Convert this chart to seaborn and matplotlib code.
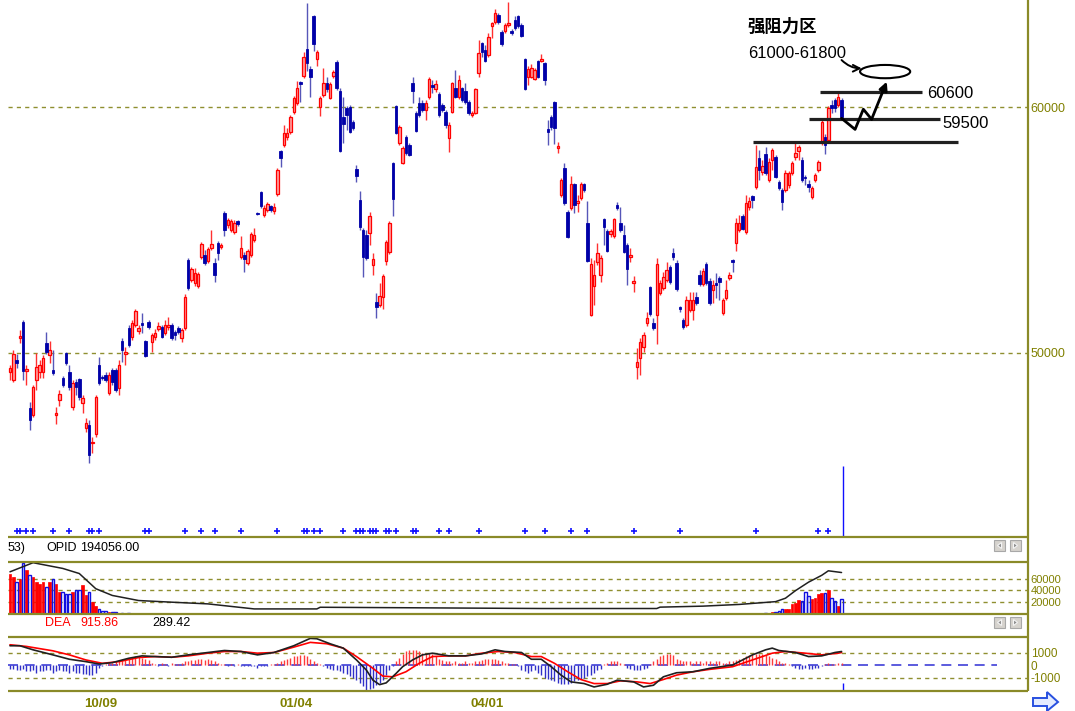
import numpy as np
import pandas as pd
import matplotlib
matplotlib.use("Agg")
import matplotlib.pyplot as plt
from matplotlib.patches import Ellipse, Rectangle, Polygon
import seaborn as sns

# ---------------- data (candles) ----------------
opens = [49230,48900,49720,50610,51260,49270,47770,47480,48900,49230,
 49230,50410,49920,49310,47480,48090,48980,50000,49230,47810,
 48820,48940,47970,46950,47070,46340,46710,49510,49030,49110,
 48380,49310,49310,48580,50490,49960,51020,50650,51140,50900,
 51220,50490,51260,50450,50650,50980,51060,50810,51060,51140,
 50850,51020,50610,51020,53780,52970,52850,52720,53900,53980,
 53740,54270,53660,54470,54310,55690,55200,55000,54920,55370,
 53900,53980,53660,53980,54590,55690,56550,55610,55810,55980,
 55770,56460,58210,58460,58780,58980,59800,60160,61020,61260,
 62360,61550,63700,61950,60000,60490,60980,60370,61260,61830,
 60650,59590,59960,60000,59390,57480,56220,55000,54800,54880,
 53580,52070,51950,52280,53740,54110,57720,60040,58540,57720,
 58780,58460,60980,59760,60160,60160,59880,60410,60890,60730,
 60530,60080,59800,58740,59800,60770,60410,60770,60650,60200,
 59680,59760,61380,62600,62320,62110,63290,63460,63740,63050,
 63090,63330,63090,63540,63700,63330,61950,61220,61220,61140,
 61870,61870,61790,59110,59590,60200,58330,56420,57520,55730,
 55900,56870,56100,56300,56870,55290,51550,52720,53700,53170,
 55450,54960,54840,54760,56020,55290,54800,54390,53900,52850,
 49430,49800,50240,51220,52680,51220,51550,52440,52640,52970,
 53500,54070,53660,51870,51340,51140,51750,51750,52280,53170,
 52810,53620,52930,52560,52850,53050,51630,52240,53050,53780,
 54470,55000,55570,54920,55940,56380,56750,57930,57360,58090,
 57030,57850,57970,56950,56630,56630,56830,57320,57970,58210,
 57850,57160,56870,56340,57030,57440,58580,58780,58660,60080,
 60290,60080,60290]
highs = [49510,50120,49960,50940,51340,49510,48010,48700,50000,49720,
 49920,50850,50490,50120,47810,48500,49070,50040,49510,48900,
 48940,48980,48290,47360,47280,46590,48290,49840,49110,49230,
 49230,49390,49390,49720,50610,50240,51140,51340,51790,51140,
 51630,50530,51340,50810,50980,51260,51140,51340,51460,51220,
 50940,51100,51020,52400,53860,53500,53460,53290,54510,54190,
 54310,55000,53860,54550,54470,55770,55490,55450,55410,55410,
 54760,54110,54230,54920,55080,55730,56590,56020,56140,56020,
 56100,57520,58250,59270,59150,59680,60450,61060,61060,62240,
 64230,61670,63740,62320,60450,61590,61220,61020,61500,61910,
 60770,60410,60040,60080,59470,57640,56590,55080,55000,55730,
 54070,52440,52850,53210,54590,55370,57770,60080,59270,58420,
 58860,58540,61220,59840,60410,60290,60290,61220,61100,61100,
 60610,60160,59880,59390,61020,61510,61300,60810,60980,60290,
 59840,60770,62720,62640,62520,63010,63460,63980,63820,63130,
 63420,64270,63170,63700,63740,63420,61990,61670,61750,61590,
 61910,62160,61830,59470,59680,60240,58580,57110,57720,55810,
 57200,56910,56420,56950,56910,56180,53860,53780,54470,53980,
 55490,55040,55040,55490,56140,55940,55200,54470,54270,53130,
 50200,50610,50850,51670,52720,51420,53860,52970,53290,53700,
 53580,54270,53780,51910,51420,52320,52480,52480,52480,53380,
 53460,53700,53050,52970,53250,53130,52240,52970,53290,53820,
 55490,55610,55650,56420,56340,56420,58460,58250,57850,58380,
 57930,58330,58050,57030,56710,57440,57400,57810,58540,58460,
 57970,57240,57030,56790,57320,57850,59470,58900,60040,60290,
 60370,60610,60370]
lows = [48900,48820,49390,50410,48900,48700,46870,47400,48500,48980,
 48980,49960,49590,49110,47110,47850,48620,49510,48500,47680,
 48290,48090,47560,46790,45530,45940,46590,48700,48900,48820,
 48290,48700,48420,48290,49630,49510,50240,50530,51060,50770,
 50810,49840,50980,50040,50530,50900,50610,50730,50940,50530,
 50530,50770,50450,50940,52560,52890,52720,52640,53820,53580,
 53660,54190,52890,53780,54230,54760,55080,54920,54840,55160,
 53820,53290,53580,53900,54510,55610,55900,55530,55730,55730,
 55650,56380,57560,58380,58660,58900,59720,60080,60200,61180,
 61460,60410,62280,61670,59630,60410,60610,60330,61180,60690,
 58170,58540,59070,58940,59070,56950,55000,53090,53780,54390,
 53170,51420,51870,51790,53580,54030,55570,58900,58460,57680,
 58050,58010,60160,58980,59590,59800,59470,60330,60570,60610,
 59590,59800,59150,58170,59760,60370,60330,60200,60120,59680,
 59590,59720,61220,62030,61830,62030,62810,63370,63370,62480,
 63010,63250,62930,63130,63210,62850,60690,60890,61180,61100,
 61180,61830,60890,58460,59070,58500,58130,56340,56020,54680,
 55810,55690,55730,56220,56550,53700,51510,51950,53580,52890,
 54390,54110,54720,54680,55810,54920,54070,52770,53700,52480,
 48940,49110,50040,51100,51510,50940,50370,52360,52560,52890,
 52810,53780,52520,51670,50980,51060,51670,51340,51950,52720,
 52720,52770,51950,52030,52240,52160,51550,52160,52970,53290,
 54150,54920,55000,54840,55810,55900,56670,57030,57240,57240,
 56950,57440,57110,56630,55810,56550,56710,57240,57850,57850,
 56950,56830,56550,56260,56950,57360,58460,58090,58580,59760,
 59800,60000,59470]
closes = [49390,49960,49590,50690,49270,49350,47280,48620,49430,49510,
 49800,50040,50120,49190,47560,48330,48700,49590,48620,48780,
 48620,48210,48170,47160,45850,46380,48210,48780,48980,48900,
 49110,48820,48500,49510,50120,50040,50330,51220,51710,51020,
 51140,49880,51060,50730,50810,51100,50650,51140,51140,50610,
 50730,50850,50940,52280,52640,53420,53250,53210,54430,53660,
 54230,54430,53170,54070,54390,55000,55410,55370,55290,55240,
 54270,53820,54150,54840,54800,55650,55980,55900,56060,55810,
 55940,57440,57930,58940,58940,59590,60370,60770,60940,62030,
 61790,61220,62560,62240,60370,60980,60730,60940,61420,60770,
 58210,59310,59680,58980,59150,57200,55120,53900,53860,55570,
 53820,51870,52320,53130,54510,55290,56260,58940,59190,58330,
 58130,58050,60650,59030,59680,59880,60160,61140,60810,60940,
 59680,59880,59270,59270,60980,60410,61100,60290,60200,59760,
 59760,60730,62200,62240,61870,62850,63420,63820,63460,62560,
 63330,63420,63010,63210,63290,62890,60730,61550,61590,61510,
 61220,61950,61100,58980,59190,59150,58420,57030,56100,54720,
 56870,56020,56180,56870,56630,53740,53620,53170,54070,53860,
 55120,54150,54960,55450,55900,55000,54110,53420,53980,52930,
 49630,50450,50730,51420,51590,51020,53620,52850,53090,53380,
 52890,53900,52600,51790,51060,52160,52160,52160,52030,52810,
 53330,52850,52030,52770,52770,52890,52160,52560,53170,53700,
 55290,55290,55040,56100,56180,56220,57560,57440,57600,57320,
 57770,58250,57160,56710,56140,57320,57320,57720,58130,58380,
 57030,57110,56750,56710,57240,57770,59390,58460,59960,59960,
 59960,60410,59590]

price_ticks = [50000, 60000]
price_tick_labels = ["50000", "60000"]

signal_idx = [2,3,5,7,13,18,24,25,27,41,42,53,58,62,70,81,89,90,92,94,101,105,
              106,107,109,110,111,114,115,117,122,123,130,133,142,156,162,170,
              175,189,203,226,245,248]

# resistance annotation
levels = [60600, 59500, 58590]
level_labels = ["60600", "59500"]
zone_title = "强阻力区"
zone_range = "61000-61800"
zone_low, zone_high = 61170, 61710
path_idx = [252.0, 256.1, 258.6, 261.1, 265.7]
path_val = [59540, 59090, 59910, 59500, 61030]

# OPID pane
opid_header = ["53)", "OPID", "194056.00"]
opid_left_start = 0
opid_left = [68500,62000,54200,60000,87000,74200,65700,62800,54200,51400,54200,45700,
             54200,60000,51400,37100,37100,34300,34300,37100,40000,40000,48500,31400,
             37100,20000,14300,8600,5700,4600,4000,3400,2900,2300,1700,1200,900]
opid_right_start = 228
opid_right = [1500,2000,2500,3000,3500,5800,8000,8000,9000,16200,19100,23200,22000,
              36500,30700,24900,26700,33600,34800,34800,40600,26700,22000,13300,24900]
opid_line_idx = [0,7,16,21,26,31,39,49,60,74,93,94,161,196,197,210,221,232,235,238,242,246,248,252]
opid_line_val = [71400,86800,77100,68500,42800,31400,22800,20000,17100,8600,8600,11400,
                 9300,9300,11600,13300,16200,20900,26700,39400,53900,65500,73100,70200]
opid_ticks = [20000, 40000, 60000]

# MACD pane
macd_header = ["DEA", "915.86", "289.42"]
dif_idx = [0,3,7,13,18,23,27,31,36,40,44,49,54,60,65,70,75,80,86,91,93,97,101,105,108,110,
           112,114,117,119,122,125,128,133,138,143,147,150,155,158,161,164,167,170,174,177,
           181,184,189,192,195,198,202,207,212,219,225,229,231,233,238,242,246,250,252]
dif_val = [1540,1540,1215,810,460,270,80,190,540,730,675,620,810,1000,1160,1080,810,1000,1540,
           2130,2100,1700,1350,405,-405,-1215,-1570,-1430,-675,-135,405,810,945,730,730,890,
           1215,1080,1000,460,460,-135,-810,-1350,-1485,-1755,-1540,-1215,-1350,-1755,-1620,
           -945,-620,-540,-270,0,810,1215,1350,1160,1000,675,730,1000,1080]
dea_idx = [0,5,13,18,23,28,33,39,44,49,54,60,65,70,75,80,86,91,96,101,105,110,113,116,120,
           124,128,133,138,143,148,153,158,161,165,169,173,177,181,185,190,194,198,202,207,
           212,219,225,231,235,241,246,251,252]
dea_val = [1620,1485,1135,810,405,135,270,595,675,620,730,945,1080,1080,945,1000,1430,1810,
           1700,1350,675,-270,-890,-945,-540,135,675,730,730,945,1080,1000,675,675,135,-540,
           -1160,-1485,-1485,-1270,-1350,-1485,-1160,-810,-540,-350,-135,405,945,1080,945,
           810,945,1000]
macd_hist = [
 -300,-300,-400,-400,-300,-500,-500,-400,-600,-500,-500,-400,-400,-600,-500,-400,-500,-500,
 -600,-500,-600,-600,-700,-700,-800,-800,-600,
 -200,-100,
 100,200,200,300,400,500,400,500,600,700,700,600,500,400,200,
 100,-100,200,100,-100,200,100,100,200,300,300,400,
 400,500,500,400,500,400,300,200,100,
 100,-100,100,-100,100,-100,-100,-100,
 -100,-100,-200,-100,-100,-100,100,100,
 200,300,400,500,600,700,700,800,800,700,500,
 300,200,100,
 -100,-200,-300,-400,-400,-500,-600,-700,-900,-1000,-1200,-1400,-1700,
 -2000,-1900,-1800,-1600,-1400,-1200,
 -800,-400,-100,
 300,600,900,1100,1200,1200,1200,1100,1000,1000,1000,900,700,500,400,
 300,300,200,300,200,200,300,200,200,300,300,
 400,500,500,500,500,400,300,
 200,200,100,100,-100,
 -400,-500,-600,-500,-400,-600,
 -800,-1000,-1100,-1200,-1300,-1400,-1500,-1500,-1500,-1400,-1300,-1200,-1100,-1000,-900,
 -800,-600,-400,-300,
 100,200,300,300,300,200,100,
 -200,-300,-400,-400,-400,-300,-200,
 100,300,500,700,800,900,900,800,
 500,400,300,300,300,200,300,300,200,300,300,200,300,300,200,200,
 300,300,400,500,600,700,800,900,900,900,900,800,700,600,500,
 300,200,200,100,
 -100,-200,-300,-300,-200,-300,-300,-200,-200,-100,
 100,200,100,100,200,200]
macd_ticks = [1000, 0, -1000]
macd_tick_labels = ["1000", "0", "-1000"]

date_idx = [27.5, 86.7, 144.6]
date_labels = ["10/09", "01/04", "04/01"]

# ---------------- styling ----------------
sns.set_theme(style="white")
plt.rcParams['font.family'] = ['Liberation Sans', 'Noto Sans CJK SC', 'DejaVu Sans']
SANS = ['Liberation Sans', 'DejaVu Sans']
OLIVE = '#808000'
FRAME = '#8a8a28'
GRID = '#8f8f30'
RED = '#ff0000'
BLUE = '#0000a8'

W, H = 1075, 711
fig = plt.figure(figsize=(W / 100, H / 100), dpi=100)
fig.patch.set_facecolor('white')


def box(x0, y0, x1, y1):
    return [x0 / W, 1 - y1 / H, (x1 - x0) / W, (y1 - y0) / H]


XL = (-0.6, 308.5)
ax = fig.add_axes(box(8, 0, 1028, 537))
ax_v = fig.add_axes(box(8, 562, 1028, 614))
ax_m = fig.add_axes(box(8, 637, 1028, 691))
for a in (ax, ax_v, ax_m):
    a.set_xlim(*XL)
    a.set_facecolor('white')
    for s in a.spines.values():
        s.set_visible(False)
    a.yaxis.tick_right()
    a.tick_params(axis='y', length=0, pad=2, labelcolor=OLIVE, labelsize=9,
                  labelfontfamily=SANS[0])
    a.set_xlabel("")
    a.set_ylabel("")

# ---------------- main candlestick pane ----------------
df = pd.DataFrame({"idx": np.arange(len(closes)), "open": opens, "high": highs,
                   "low": lows, "close": closes})
df["up"] = df["close"] >= df["open"]
df["lo"] = np.minimum(df["open"], df["close"])
df["h"] = np.maximum((df["close"] - df["open"]).abs(), 50)
u = df[df["up"]]
d = df[~df["up"]]
ax.vlines(u["idx"], u["low"], u["high"], color='#ff3030', lw=1.0, zorder=2)
ax.bar(u["idx"], u["h"], bottom=u["lo"], width=0.75, color='#ff9c9c',
       edgecolor=RED, linewidth=0.9, zorder=3)
ax.vlines(d["idx"], d["low"], d["high"], color='#5656b8', lw=1.0, zorder=2)
ax.bar(d["idx"], d["h"], bottom=d["lo"], width=0.75, color=BLUE,
       edgecolor=BLUE, linewidth=0.6, zorder=3)

ax.set_ylim(42520, 64350)
for lv in price_ticks:
    ax.axhline(lv, color=GRID, lw=1.0, ls=(0, (3, 3)), zorder=1)
ax.set_yticks(price_ticks)
ax.set_yticklabels(price_tick_labels)
ax.set_xticks([])

sns.scatterplot(x=signal_idx, y=[42770] * len(signal_idx), ax=ax, marker='+', s=16,
                color='#1010ff', linewidth=1.2, zorder=4, legend=False)
ax.vlines(252.5, 42520, 45420, color='#1010ff', lw=1.0, zorder=4)

# annotation
ax.hlines(levels[0], 245.5, 276.4, color='#202020', lw=2.3, zorder=5)
ax.hlines(levels[1], 242.1, 281.8, color='#202020', lw=2.3, zorder=5)
ax.hlines(levels[2], 225.2, 287.3, color='#202020', lw=2.3, zorder=5)
ax.text(277.9, 60530, level_labels[0], fontsize=12, va='center', ha='left', color='black')
ax.text(282.7, 59330, level_labels[1], fontsize=12, va='center', ha='left', color='black')
ax.plot(path_idx[:4], path_val[:4], color='black', lw=2.0, zorder=6)
ax.annotate("", xy=(path_idx[4], path_val[4]), xytext=(path_idx[3], path_val[3]),
            arrowprops=dict(arrowstyle='-|>', color='black', lw=2.0,
                            mutation_scale=12, shrinkA=0, shrinkB=0), zorder=6)
ax.add_patch(Ellipse((265.2, (zone_low + zone_high) / 2), 15.2, zone_high - zone_low,
                     fill=False, edgecolor='black', lw=1.5, zorder=6))
ax.annotate("", xy=(258.1, 61570), xytext=(252.0, 61910),
            arrowprops=dict(arrowstyle='->', color='black', lw=1.4,
                            connectionstyle='arc3,rad=0.2', shrinkA=0, shrinkB=0),
            zorder=6)
ax.text(223.6, 63250, zone_title, fontsize=12.5, va='center', ha='left', fontweight='bold',
        family=['Noto Sans CJK SC', 'DejaVu Sans'], color='black')
ax.text(223.6, 62195, zone_range, fontsize=12, va='center', ha='left', color='black')

# ---------------- OPID pane ----------------
vdf = pd.DataFrame({
    "idx": list(range(opid_left_start, opid_left_start + len(opid_left))) +
           list(range(opid_right_start, opid_right_start + len(opid_right))),
    "val": opid_left + opid_right})
vdf["up"] = df.loc[vdf["idx"], "up"].values
vu = vdf[vdf["up"]]
vd = vdf[~vdf["up"]]
ax_v.bar(vu["idx"], vu["val"], width=0.8, color=RED, edgecolor=RED, linewidth=0.5, zorder=2)
ax_v.bar(vd["idx"], vd["val"], width=0.8, facecolor='none', edgecolor='#1010e0',
         linewidth=1.0, zorder=3)
sns.lineplot(x=opid_line_idx, y=opid_line_val, ax=ax_v, color='#202020', lw=1.1,
             sort=False, estimator=None, zorder=4)
ax_v.set_ylim(0, 88000)
for lv in opid_ticks:
    ax_v.axhline(lv, color=GRID, lw=1.0, ls=(0, (3, 3)), zorder=1)
ax_v.set_yticks(opid_ticks)
ax_v.set_yticklabels([str(t) for t in opid_ticks])
ax_v.tick_params(axis='y', labelsize=8)
ax_v.set_xticks([])
ax_v.set_xlabel("")
ax_v.set_ylabel("")

# ---------------- MACD pane ----------------
hdf = pd.DataFrame({"idx": np.arange(len(macd_hist)), "val": macd_hist})
hp = hdf[hdf["val"] > 0]
hn = hdf[hdf["val"] < 0]
ax_m.vlines(hp["idx"], 0, hp["val"], color='#ff3a3a', lw=1.0, zorder=2)
ax_m.vlines(hn["idx"], hn["val"], 0, color='#3030c8', lw=1.0, zorder=2)
ax_m.hlines(0, XL[0], 299, color='#4040d8', lw=1.2, ls=(0, (6, 4)), zorder=1)
for lv in (1000, -1000):
    ax_m.axhline(lv, color=GRID, lw=1.0, ls=(0, (3, 3)), zorder=1)
sns.lineplot(x=dea_idx, y=dea_val, ax=ax_m, color='#ff0000', lw=1.2, sort=False,
             estimator=None, zorder=4)
sns.lineplot(x=dif_idx, y=dif_val, ax=ax_m, color='#202020', lw=1.2, sort=False,
             estimator=None, zorder=5)
ax_m.vlines(252.5, -2080, -1440, color='#1010ff', lw=1.0, zorder=4)
ax_m.set_ylim(-2080, 2240)
ax_m.set_yticks(macd_ticks)
ax_m.set_yticklabels(macd_tick_labels)
ax_m.tick_params(axis='y', labelsize=8.5)
ax_m.set_xticks(date_idx)
ax_m.set_xticklabels(date_labels)
ax_m.tick_params(axis='x', length=0, pad=5, labelcolor=OLIVE, labelsize=9.5,
                 labelfontfamily=SANS[0])
for lbl in ax_m.get_xticklabels():
    lbl.set_fontweight('bold')
ax_m.set_xlabel("")
ax_m.set_ylabel("")

# ---------------- frame, headers, buttons (overlay) ----------------
ov = fig.add_axes([0, 0, 1, 1])
ov.set_xlim(0, W)
ov.set_ylim(H, 0)
ov.axis('off')
ov.patch.set_visible(False)
for yy in (537, 562, 614, 637, 691):
    ov.plot([8, 1028], [yy, yy], color=FRAME, lw=1.6, solid_capstyle='butt')
ov.plot([1028, 1028], [0, 691], color=FRAME, lw=1.6, solid_capstyle='butt')

ov.text(8, 548, opid_header[0], fontsize=9, va='center', family=SANS, color='black')
ov.text(46, 548, opid_header[1], fontsize=9, va='center', family=SANS, color='black')
ov.text(80, 548, opid_header[2], fontsize=9, va='center', family=SANS, color='black')
ov.text(45, 623, macd_header[0], fontsize=9, va='center', family=SANS, color=RED)
ov.text(80, 623, macd_header[1], fontsize=9, va='center', family=SANS, color=RED)
ov.text(152, 623, macd_header[2], fontsize=9, va='center', family=SANS, color='black')

for yb in (540, 617):
    for xb, left in ((994, True), (1010, False)):
        ov.add_patch(Rectangle((xb, yb), 11, 11, facecolor='#d6d3ce', edgecolor='#a8a8a8', lw=0.8))
        if left:
            tri = [(xb + 7.5, yb + 2.5), (xb + 7.5, yb + 8.5), (xb + 3.5, yb + 5.5)]
        else:
            tri = [(xb + 3.5, yb + 2.5), (xb + 3.5, yb + 8.5), (xb + 7.5, yb + 5.5)]
        ov.add_patch(Polygon(tri, closed=True, facecolor='#8c8c8c', edgecolor='#f4f4f4', lw=0.8))

arrow_pts = [(1033, 698), (1047, 698), (1047, 692), (1058, 702), (1047, 711),
             (1047, 706), (1033, 706)]
ov.add_patch(Polygon(arrow_pts, closed=True, facecolor='#e4ecff', edgecolor='#2850e0', lw=1.4))

fig.savefig("out.png", dpi=100, facecolor='white')
